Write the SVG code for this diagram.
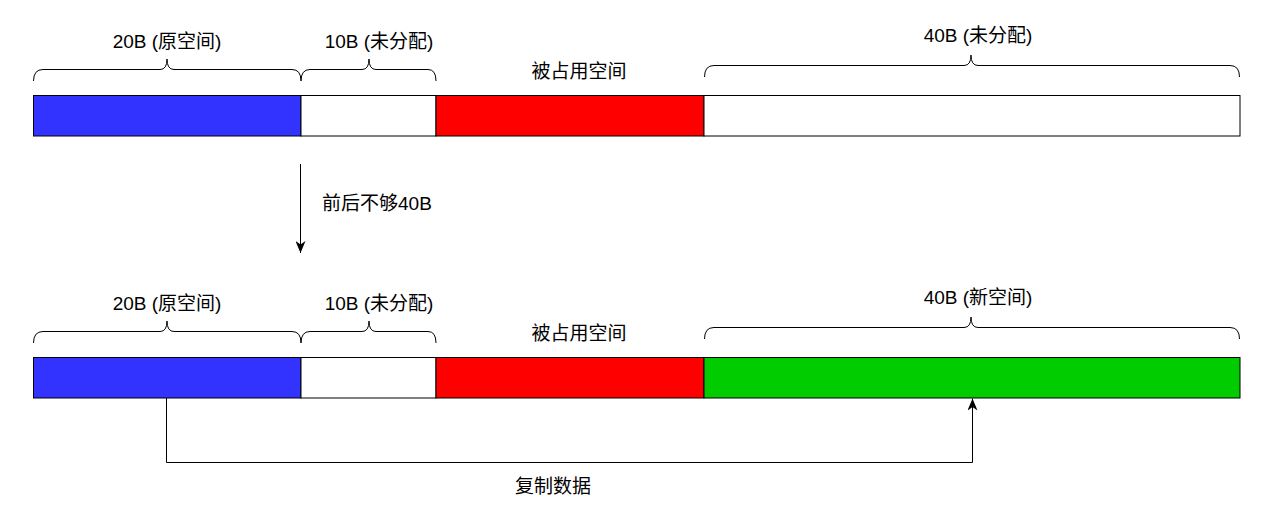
<svg xmlns="http://www.w3.org/2000/svg" width="1278" height="527" viewBox="0 0 1278 527">
  <style>
    .seg { stroke: #000; stroke-width: 1; }
    .brace { fill: none; stroke: #000; stroke-width: 1; }
    .conn { fill: none; stroke: #000; stroke-width: 1; }
    text { font-family: "Liberation Sans", "Noto Sans CJK SC", sans-serif; font-size: 19px; fill: #000; }
    .mid { text-anchor: middle; }
  </style>
  <defs>
    <marker id="arrow" viewBox="0 0 12 10" refX="12" refY="5" markerWidth="12" markerHeight="10" markerUnits="userSpaceOnUse" orient="auto">
      <path d="M0,0 L12,5 L0,10 L3.5,5 Z" fill="#000"/>
    </marker>
  </defs>
  <rect width="1278" height="527" fill="#fff"/>

  <!-- top row -->
  <g id="top-orig"><rect class="seg" x="33.5" y="95.5" width="267.5" height="40.5" fill="#3333FF"/></g>
  <g id="top-free10"><rect class="seg" x="301" y="95.5" width="135" height="40.5" fill="#FFFFFF"/></g>
  <g id="top-used"><rect class="seg" x="436" y="95.5" width="268" height="40.5" fill="#FF0000"/></g>
  <g id="top-free40"><rect class="seg" x="704" y="95.5" width="536" height="40.5" fill="#FFFFFF"/></g>

  <g id="top-brace-20">
    <path class="brace" d="M33.5,81 Q33.5,69.5 43,69.5 L160,69.5 Q167,69.5 167,59 Q167,69.5 174,69.5 L292,69.5 Q301,69.5 301,81"/>
    <text class="mid" x="167" y="48">20B (原空间)</text>
  </g>
  <g id="top-brace-10">
    <path class="brace" d="M301,81 Q301,69.5 310,69.5 L362,69.5 Q369,69.5 369,59 Q369,69.5 376,69.5 L428,69.5 Q436,69.5 436,81"/>
    <text class="mid" x="379" y="48">10B (未分配)</text>
  </g>
  <g id="top-used-label"><text class="mid" x="579" y="78">被占用空间</text></g>
  <g id="top-brace-40">
    <path class="brace" d="M704.5,77 Q704.5,65.5 714,65.5 L964,65.5 Q971,65.5 971,55 Q971,65.5 978,65.5 L1230,65.5 Q1239.5,65.5 1239.5,77"/>
    <text class="mid" x="978" y="42">40B (未分配)</text>
  </g>

  <!-- bottom row -->
  <g id="bot-orig"><rect class="seg" x="33.5" y="357.5" width="267.5" height="40.5" fill="#3333FF"/></g>
  <g id="bot-free10"><rect class="seg" x="301" y="357.5" width="135" height="40.5" fill="#FFFFFF"/></g>
  <g id="bot-used"><rect class="seg" x="436" y="357.5" width="268" height="40.5" fill="#FF0000"/></g>
  <g id="bot-new40"><rect class="seg" x="704" y="357.5" width="536" height="40.5" fill="#00CC00"/></g>

  <g id="bot-brace-20">
    <path class="brace" d="M33.5,343 Q33.5,331.5 43,331.5 L160,331.5 Q167,331.5 167,321 Q167,331.5 174,331.5 L292,331.5 Q301,331.5 301,343"/>
    <text class="mid" x="167" y="310">20B (原空间)</text>
  </g>
  <g id="bot-brace-10">
    <path class="brace" d="M301,343 Q301,331.5 310,331.5 L362,331.5 Q369,331.5 369,321 Q369,331.5 376,331.5 L428,331.5 Q436,331.5 436,343"/>
    <text class="mid" x="379" y="310">10B (未分配)</text>
  </g>
  <g id="bot-used-label"><text class="mid" x="579" y="340">被占用空间</text></g>
  <g id="bot-brace-40">
    <path class="brace" d="M704.5,339 Q704.5,327.5 714,327.5 L964,327.5 Q971,327.5 971,317 Q971,327.5 978,327.5 L1230,327.5 Q1239.5,327.5 1239.5,339"/>
    <text class="mid" x="978" y="304">40B (新空间)</text>
  </g>

  <!-- connectors -->
  <g id="connectors">
    <path class="conn" d="M300.5,164 L300.5,253" marker-end="url(#arrow)"/>
    <text x="322" y="210">前后不够40B</text>
    <path class="conn" d="M166.5,398 L166.5,462.5 L972.5,462.5 L972.5,398.5" marker-end="url(#arrow)"/>
    <text class="mid" x="553" y="493">复制数据</text>
  </g>
</svg>
